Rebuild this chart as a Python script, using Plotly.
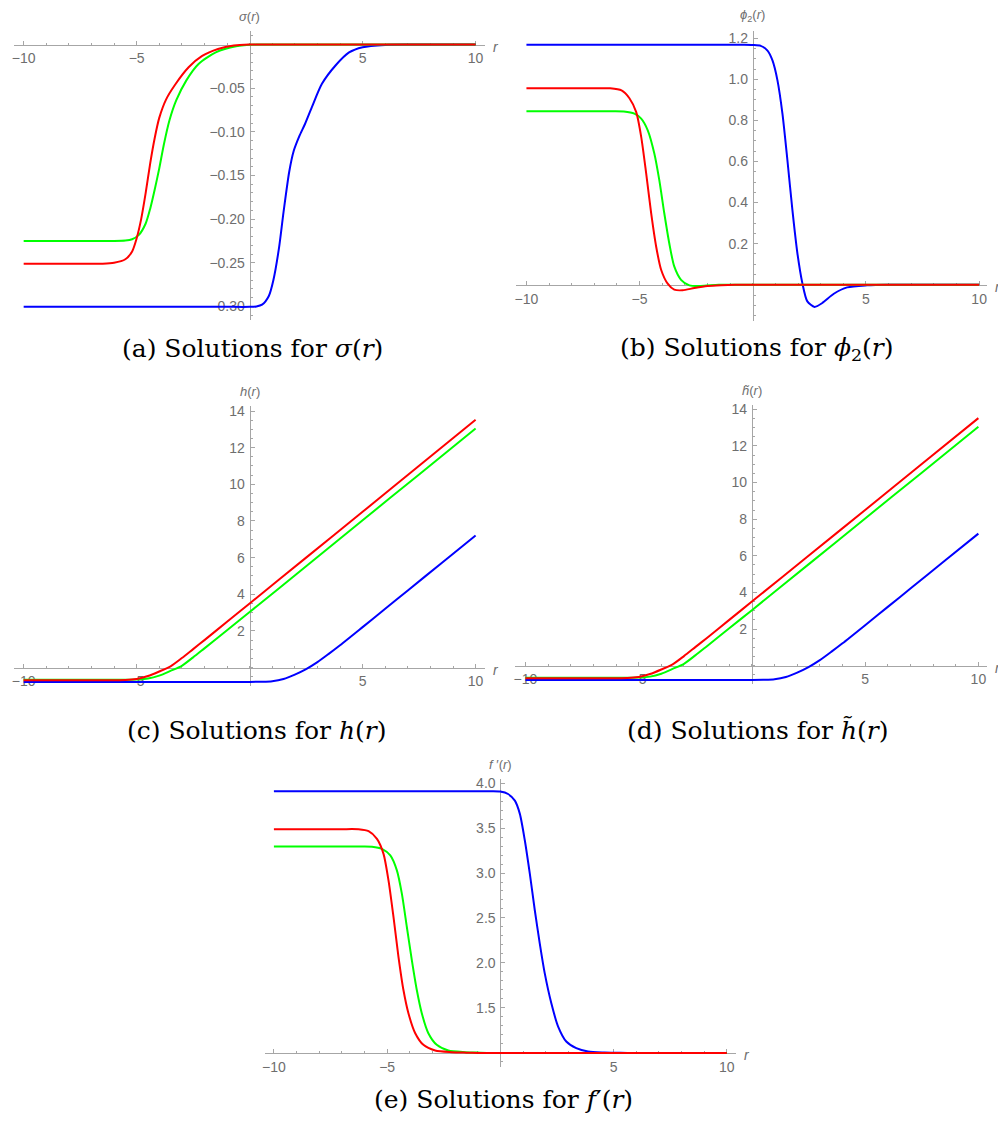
import plotly.graph_objects as go

# (a) sigma(r)
r_sigma_red = [-10, -8, -7, -6.5, -6, -5.5, -5.2, -5.0, -4.8, -4.6, -4.4, -4.2, -4.0, -3.7, -3.3, -2.7, -2.1, -1.4, -0.7, 0, 1, 3, 5, 7, 10]
sigma_red = [-0.251, -0.251, -0.251, -0.251, -0.250, -0.246, -0.237, -0.222, -0.200, -0.170, -0.136, -0.107, -0.084, -0.063, -0.046, -0.026, -0.013, -0.005, -0.001, 0, 0, 0, 0, 0, 0]
r_sigma_green = [-10, -8, -7, -6, -5.5, -5.2, -4.9, -4.6, -4.4, -4.2, -4.0, -3.8, -3.55, -3.25, -2.8, -2.25, -1.5, -0.6, 0.3, 1.5, 3, 5, 7, 10]
sigma_green = [-0.225, -0.225, -0.225, -0.225, -0.2245, -0.223, -0.218, -0.205, -0.188, -0.166, -0.142, -0.115, -0.087, -0.064, -0.041, -0.022, -0.009, -0.002, 0, 0, 0, 0, 0, 0]
r_sigma_blue = [-10, -8, -6, -4, -2, -1, 0, 0.3, 0.55, 0.85, 1.05, 1.3, 1.5, 1.75, 1.95, 2.2, 2.45, 2.75, 3.2, 3.8, 4.4, 5.0, 6.0, 7, 8.5, 10]
sigma_blue = [-0.3005, -0.3005, -0.3005, -0.3005, -0.3005, -0.3005, -0.3005, -0.300, -0.298, -0.288, -0.270, -0.233, -0.192, -0.146, -0.122, -0.105, -0.091, -0.072, -0.045, -0.024, -0.009, -0.003, -0.0004, 0, 0, 0]

# (b) phi_2(r)
r_phi_red = [-10, -9, -8, -7, -6.3, -5.8, -5.45, -5.15, -4.93, -4.71, -4.49, -4.27, -4.05, -3.76, -3.47, -3.1, -2.58, -2.0, -1.4, -0.8, 0, 2, 4, 6, 8, 10]
phi_red = [0.957, 0.957, 0.957, 0.957, 0.956, 0.946, 0.908, 0.840, 0.720, 0.542, 0.348, 0.186, 0.073, 0.005, -0.024, -0.027, -0.016, -0.006, -0.002, 0, 0, 0, 0, 0, 0, 0]
r_phi_green = [-10, -9, -8, -7, -6.2, -5.7, -5.23, -4.93, -4.64, -4.35, -4.13, -3.91, -3.69, -3.47, -3.17, -2.8, -2.3, -1.5, -0.5, 1, 3, 5, 7, 10]
phi_green = [0.844, 0.844, 0.844, 0.844, 0.844, 0.843, 0.833, 0.809, 0.752, 0.639, 0.509, 0.348, 0.202, 0.089, 0.024, -0.003, -0.006, 0, 0, 0, 0, 0, 0, 0]
r_phi_blue = [-10, -8, -6, -4, -2, -1, -0.4, 0, 0.35, 0.65, 0.87, 1.09, 1.31, 1.53, 1.75, 1.97, 2.19, 2.41, 2.73, 3.07, 3.58, 4.17, 5.05, 6.0, 7, 8.5, 10]
phi_blue = [1.168, 1.168, 1.168, 1.168, 1.168, 1.168, 1.168, 1.167, 1.163, 1.140, 1.092, 0.995, 0.833, 0.606, 0.364, 0.154, 0.008, -0.081, -0.108, -0.089, -0.044, -0.013, -0.003, 0, 0, 0, 0]

# (c) h(r) and (d) h~(r) -- the two panels agree to plotting accuracy
r_h_red = [-10, -9, -8, -7, -6, -5.5, -5, -4.5, -4, -3.5, -3, -2.5, -2, -1, 0, 2.5, 5, 7.5, 10]
h_red = [-0.69, -0.69, -0.69, -0.69, -0.69, -0.68, -0.62, -0.46, -0.21, 0.07, 0.52, 1.01, 1.50, 2.50, 3.50, 6.00, 8.50, 11.01, 13.52]
r_h_green = [-10, -9, -8, -7, -6, -5.5, -5, -4.5, -4, -3.5, -3, -2.5, -2, -1, 0, 2.5, 5, 7.5, 10]
h_green = [-0.66, -0.66, -0.66, -0.66, -0.66, -0.66, -0.65, -0.60, -0.44, -0.18, 0.10, 0.56, 1.05, 2.04, 3.03, 5.53, 8.04, 10.54, 13.05]
r_h_blue = [-10, -8, -6, -4, -2, -1, 0, 0.5, 1, 1.5, 2, 2.5, 3, 3.5, 4, 5, 6, 7, 8.5, 10]
h_blue = [-0.78, -0.78, -0.78, -0.78, -0.78, -0.78, -0.78, -0.77, -0.74, -0.62, -0.38, -0.08, 0.30, 0.75, 1.22, 2.21, 3.21, 4.21, 5.71, 7.21]

# (e) f'(r)
r_fp_red = [-10, -9, -8, -7, -6.26, -5.82, -5.45, -5.16, -4.94, -4.72, -4.50, -4.28, -4.06, -3.76, -3.40, -2.88, -2.15, -1.5, -1.0, 0, 2, 4, 6, 8, 10]
fp_red = [3.487, 3.487, 3.487, 3.487, 3.486, 3.465, 3.380, 3.213, 2.918, 2.512, 2.069, 1.699, 1.441, 1.219, 1.090, 1.027, 1.009, 1.003, 1.0, 1.0, 1.0, 1.0, 1.0, 1.0, 1.0]
r_fp_green = [-10, -9, -8, -7, -6.2, -5.67, -5.23, -4.86, -4.57, -4.35, -4.13, -3.91, -3.69, -3.47, -3.18, -2.81, -2.30, -1.56, -0.9, -0.4, 1, 3, 5, 7, 10]
fp_green = [3.295, 3.295, 3.295, 3.295, 3.295, 3.293, 3.269, 3.195, 3.029, 2.770, 2.400, 2.032, 1.699, 1.441, 1.219, 1.090, 1.027, 1.009, 1.003, 1.0, 1.0, 1.0, 1.0, 1.0, 1.0]
r_fp_blue = [-10, -8, -6, -4, -2, -1, -0.4, 0, 0.34, 0.64, 0.86, 1.08, 1.30, 1.52, 1.74, 1.96, 2.25, 2.55, 2.91, 3.35, 3.87, 4.6, 5.3, 5.9, 7, 8.5, 10]
fp_blue = [3.908, 3.908, 3.908, 3.908, 3.908, 3.908, 3.908, 3.905, 3.878, 3.804, 3.657, 3.361, 2.992, 2.586, 2.216, 1.884, 1.552, 1.293, 1.127, 1.053, 1.016, 1.005, 1.001, 1.0, 1.0, 1.0, 1.0]

x_ticks = [-10, -5, 5, 10]
sigma_ticks = [-0.30, -0.25, -0.20, -0.15, -0.10, -0.05]
phi_ticks = [0.2, 0.4, 0.6, 0.8, 1.0, 1.2]
h_ticks = [2, 4, 6, 8, 10, 12, 14]
fp_ticks = [1.5, 2.0, 2.5, 3.0, 3.5, 4.0]

# the html body has an 8px margin, so the figure is sized to fit the
# 1006x1128 window exactly and screen positions are shifted by OFF
OFF = 8
W, H = 1006 - OFF, 1128 - 2 * OFF
RED, GREEN, BLUE = "#ff0000", "#00ff00", "#0000ff"
AXIS_GRAY = "#a6a6a6"
LABEL_GRAY = "#6e6e6e"
TICK_FONT = dict(family="Liberation Sans, Arial, sans-serif", size=14, color=LABEL_GRAY)
CAPTION_FONT = dict(family="DejaVu Serif, serif", size=25, color="black")

# screen-pixel boxes of the axis lines: left, right, top, bottom
panels = [
    dict(box=(11, 483, 27, 316.7), xr=[-10.428, 10.397], yr=[-0.3151, 0.01564], ycross=0,
         yticks=sigma_ticks, yfmt=".2f", ydt=0.01, ylab="<i>σ</i>(<i>r</i>)",
         cap="(a) Solutions for <i>σ</i>(<i>r</i>)", cap_xy=(250, 346),
         curves=[(r_sigma_blue, sigma_blue, BLUE), (r_sigma_green, sigma_green, GREEN), (r_sigma_red, sigma_red, RED)]),
    dict(box=(515, 987, 26.7, 318), xr=[-10.44, 10.35], yr=[-0.176, 1.237], ycross=0,
         yticks=phi_ticks, yfmt=".1f", ydt=0.05, ylab="<i>ϕ</i><sub>2</sub>(<i>r</i>)",
         cap="(b) Solutions for <i>ϕ</i><sub>2</sub>(<i>r</i>)", cap_xy=(756, 346),
         curves=[(r_phi_blue, phi_blue, BLUE), (r_phi_green, phi_green, GREEN), (r_phi_red, phi_red, RED)]),
    dict(box=(11, 483, 403.3, 684), xr=[-10.428, 10.397], yr=[-0.98, 14.28], ycross=0,
         yticks=h_ticks, yfmt="d", ydt=0.5, ylab="<i>h</i>(<i>r</i>)",
         cap="(c) Solutions for <i>h</i>(<i>r</i>)", cap_xy=(255, 729),
         curves=[(r_h_blue, h_blue, BLUE), (r_h_green, h_green, GREEN), (r_h_red, h_red, RED)]),
    dict(box=(514, 986.7, 402.7, 682), xr=[-10.44, 10.37], yr=[-0.98, 14.22], ycross=0,
         yticks=h_ticks, yfmt="d", ydt=0.5, ylab="<i>h̃</i>(<i>r</i>)",
         cap="(d) Solutions for <i>h̃</i>(<i>r</i>)", cap_xy=(757, 729),
         curves=[(r_h_blue, h_blue, BLUE), (r_h_green, h_green, GREEN), (r_h_red, h_red, RED)]),
    dict(box=(262.7, 735, 777.3, 1066.7), xr=[-10.396, 10.396], yr=[0.845, 4.05], ycross=1.0,
         yticks=fp_ticks, yfmt=".1f", ydt=0.1, ylab="<i>f</i> ′(<i>r</i>)",
         cap="(e) Solutions for <i>f</i>′(<i>r</i>)", cap_xy=(502, 1099),
         curves=[(r_fp_blue, fp_blue, BLUE), (r_fp_green, fp_green, GREEN), (r_fp_red, fp_red, RED)]),
]

fig = go.Figure()
annotations = []

for i, p in enumerate(panels, start=1):
    left, right, top, bottom = (v - OFF for v in p["box"])
    dx = [left / W, right / W]
    dy = [1 - bottom / H, 1 - top / H]
    x0, x1 = p["xr"]
    y0, y1 = p["yr"]
    # where the axes cross, in paper coordinates
    xpos = dy[0] + (p["ycross"] - y0) / (y1 - y0) * (dy[1] - dy[0])
    ypos = dx[0] + (0 - x0) / (x1 - x0) * (dx[1] - dx[0])
    sfx = "" if i == 1 else str(i)

    for rx, ry, col in p["curves"]:
        fig.add_trace(go.Scatter(
            x=rx, y=ry, mode="lines", xaxis="x" + sfx, yaxis="y" + sfx,
            line=dict(color=col, width=2, shape="spline", smoothing=0.7),
            hoverinfo="skip", showlegend=False,
        ))

    common = dict(
        showgrid=False, zeroline=False, showline=True, linecolor=AXIS_GRAY, linewidth=1,
        ticks="inside", ticklen=4, tickwidth=1, tickcolor=AXIS_GRAY,
        tickfont=TICK_FONT, anchor="free", layer="below traces", fixedrange=True,
    )
    fig.layout["xaxis" + sfx] = dict(
        common, domain=dx, range=p["xr"], position=xpos, side="bottom",
        tickmode="array", tickvals=x_ticks, ticklabelstandoff=1,
        minor=dict(ticks="inside", ticklen=2, tickcolor=AXIS_GRAY, dtick=1, tick0=0),
    )
    fig.layout["yaxis" + sfx] = dict(
        common, domain=dy, range=p["yr"], position=ypos, side="left",
        tickmode="array", tickvals=p["yticks"], tickformat=p["yfmt"], ticklabelstandoff=2,
        minor=dict(ticks="inside", ticklen=2, tickcolor=AXIS_GRAY, dtick=p["ydt"], tick0=0),
    )

    annotations.append(dict(
        text=p["ylab"], xref="paper", yref="paper", x=ypos, y=dy[1],
        xanchor="center", yanchor="bottom", yshift=5, showarrow=False,
        font=dict(family=TICK_FONT["family"], size=13, color=LABEL_GRAY),
    ))
    annotations.append(dict(
        text="<i>r</i>", xref="paper", yref="paper", x=dx[1], y=xpos,
        xanchor="left", yanchor="middle", xshift=6, yshift=-2, showarrow=False,
        font=dict(family=TICK_FONT["family"], size=14, color=LABEL_GRAY),
    ))
    cx, cy = p["cap_xy"]
    annotations.append(dict(
        text=p["cap"], xref="paper", yref="paper", x=(cx - OFF) / W, y=1 - (cy - OFF) / H,
        xanchor="center", yanchor="middle", showarrow=False, font=CAPTION_FONT,
    ))

fig.update_layout(
    width=W, height=H, margin=dict(l=0, r=0, t=0, b=0),
    paper_bgcolor="white", plot_bgcolor="white",
    annotations=annotations, showlegend=False,
)

fig.write_html("out.html")
